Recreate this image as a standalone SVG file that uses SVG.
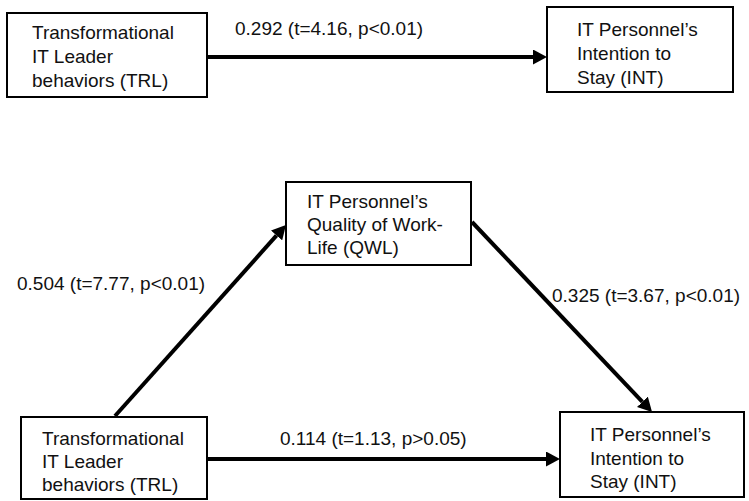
<svg xmlns="http://www.w3.org/2000/svg" width="749" height="501" viewBox="0 0 749 501">
<style>
.box{fill:#fff;stroke:#000;stroke-width:2}
.t{font-family:"Liberation Sans",Arial,sans-serif;font-size:19px;fill:#111}
.c{stroke:#000;stroke-width:4;fill:none}
</style>
<defs>
<marker id="ah" viewBox="0 0 14 15" markerWidth="14" markerHeight="15" markerUnits="userSpaceOnUse" refX="0" refY="7.5" orient="auto">
<path d="M0,0 L14,7.5 L0,15 z" fill="#000"/>
</marker>
</defs>
<rect width="749" height="501" fill="#fff"/>
<g id="connectors">
<line class="c" x1="207" y1="57" x2="533" y2="57" marker-end="url(#ah)"/>
<line class="c" x1="115" y1="416" x2="276.6" y2="235.4" marker-end="url(#ah)"/>
<line class="c" x1="472" y1="222" x2="642.4" y2="401.8" marker-end="url(#ah)"/>
<line class="c" x1="207" y1="459" x2="546" y2="459" marker-end="url(#ah)"/>
<text class="t" x="235" y="35">0.292 (t=4.16, p&lt;0.01)</text>
<text class="t" x="17" y="290">0.504 (t=7.77, p&lt;0.01)</text>
<text class="t" x="552" y="302">0.325 (t=3.67, p&lt;0.01)</text>
<text class="t" x="280" y="445">0.114 (t=1.13, p&gt;0.05)</text>
</g>
<g id="trl1">
<rect class="box" x="7" y="13" width="200" height="84"/>
<text class="t" x="32" y="39">Transformational</text>
<text class="t" x="32" y="63">IT Leader</text>
<text class="t" x="32" y="87">behaviors (TRL)</text>
</g>
<g id="int1">
<rect class="box" x="547" y="7" width="186" height="85"/>
<text class="t" x="577" y="36">IT Personnel’s</text>
<text class="t" x="577" y="60">Intention to</text>
<text class="t" x="577" y="84">Stay (INT)</text>
</g>
<g id="qwl">
<rect class="box" x="286" y="182" width="185" height="83"/>
<text class="t" x="307" y="208">IT Personnel’s</text>
<text class="t" x="307" y="231">Quality of Work-</text>
<text class="t" x="307" y="254">Life (QWL)</text>
</g>
<g id="trl2">
<rect class="box" x="21" y="417" width="186" height="82"/>
<text class="t" x="42" y="445">Transformational</text>
<text class="t" x="42" y="468">IT Leader</text>
<text class="t" x="42" y="491">behaviors (TRL)</text>
</g>
<g id="int2">
<rect class="box" x="560" y="412" width="184" height="85"/>
<text class="t" x="590" y="441">IT Personnel’s</text>
<text class="t" x="590" y="465">Intention to</text>
<text class="t" x="590" y="488">Stay (INT)</text>
</g>
</svg>
